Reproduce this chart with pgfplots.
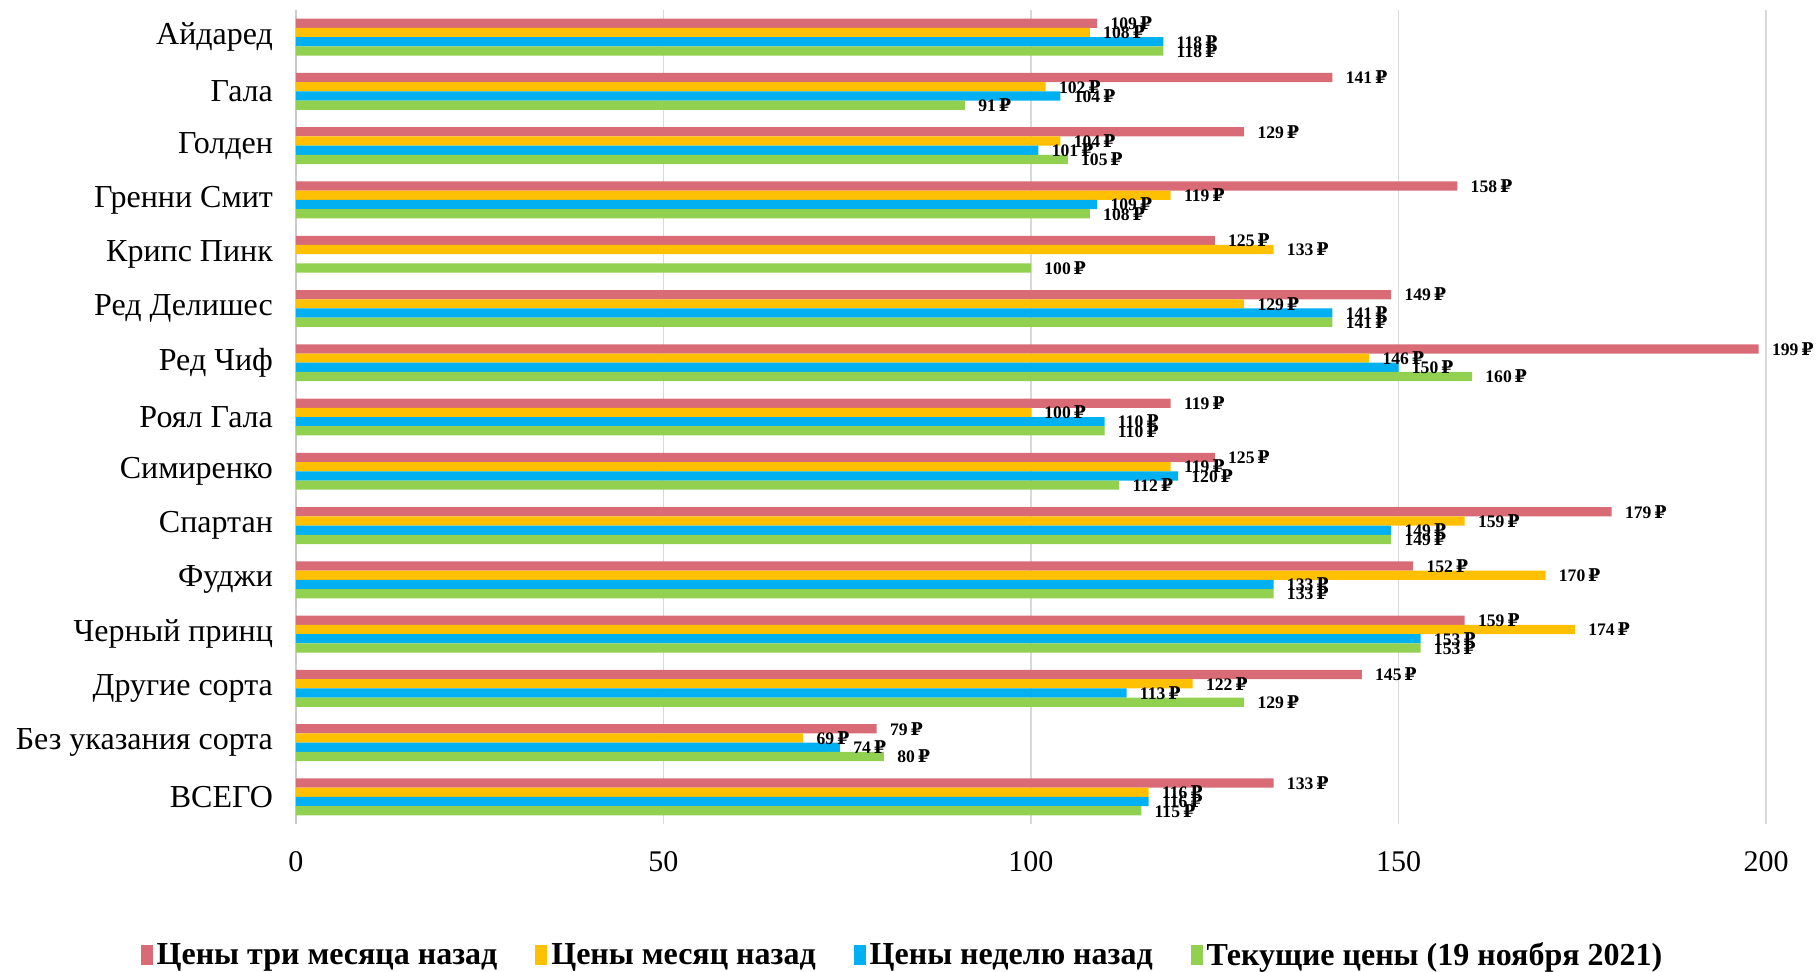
\documentclass[border=0pt]{standalone}
\usepackage{pgfplots}
\pgfplotsset{compat=1.18}
\usepackage{fontspec}
\setmainfont{Liberation Serif}
\newfontfamily\rubfont{DejaVu Serif}
\newcommand{\rub}{{\rubfont\bfseries ₽}}
\definecolor{cRed}{HTML}{D96B76}
\definecolor{cYel}{HTML}{FFC000}
\definecolor{cBlu}{HTML}{00B0F0}
\definecolor{cGrn}{HTML}{92D050}
\begin{document}
\begin{tikzpicture}
\begin{axis}[
  scale only axis,
  width=735pt, height=407pt,
  xbar, bar width=0.17,
  xmin=0, xmax=200,
  ymin=-0.5, ymax=14.5, y dir=reverse,
  ytick={0,...,14},
  yticklabels={Айдаред,Гала,Голден,Гренни Смит,Крипс Пинк,Ред Делишес,Ред Чиф,Роял Гала,Симиренко,Спартан,Фуджи,Черный принц,Другие сорта,Без указания сорта,ВСЕГО},
  xtick={0,50,100,150,200},
  major tick length=0pt,
  xmajorgrids, grid style={draw=black!15, line width=0.8pt},
  axis x line*=bottom, x axis line style={draw=none},
  axis y line*=left, y axis line style={draw=black!20, line width=0.8pt},
  xticklabel style={font=\fontsize{15}{18}\selectfont, yshift=-10pt},
  yticklabel style={font=\fontsize{16}{19}\selectfont, xshift=-8pt},
  /pgf/number format/assume math mode=true,
  point meta=x,
  nodes near coords={\pgfmathprintnumber{\pgfplotspointmeta}\,\rub},
  every node near coord/.append style={font=\fontsize{8.8}{10}\selectfont\bfseries, anchor=west, xshift=5.5pt, black, inner xsep=1pt},
  legend columns=4,
  legend style={draw=none, at={(-0.11,-0.161)}, anchor=west, font=\fontsize{16}{19}\selectfont\bfseries,
    /tikz/every even column/.append style={column sep=17pt}},
  legend image code/.code={\fill[#1] (0pt,-5pt) rectangle (6pt,5pt);},
]
\addplot[fill=cRed, draw=none, bar shift=-0.255] coordinates {
(109,0) (141,1) (129,2) (158,3) (125,4) (149,5) (199,6) (119,7) (125,8) (179,9) (152,10) (159,11) (145,12) (79,13) (133,14)};
\addplot[fill=cYel, draw=none, bar shift=-0.085] coordinates {
(108,0) (102,1) (104,2) (119,3) (133,4) (129,5) (146,6) (100,7) (119,8) (159,9) (170,10) (174,11) (122,12) (69,13) (116,14)};
\addplot[fill=cBlu, draw=none, bar shift=0.085] coordinates {
(118,0) (104,1) (101,2) (109,3) (141,5) (150,6) (110,7) (120,8) (149,9) (133,10) (153,11) (113,12) (74,13) (116,14)};
\addplot[fill=cGrn, draw=none, bar shift=0.255] coordinates {
(118,0) (91,1) (105,2) (108,3) (100,4) (141,5) (160,6) (110,7) (112,8) (149,9) (133,10) (153,11) (129,12) (80,13) (115,14)};
\legend{Цены три месяца назад, Цены месяц назад, Цены неделю назад, Текущие цены (19 ноября 2021)}
\end{axis}
\pgfresetboundingbox
\path[use as bounding box] (-148pt,-73.5pt) rectangle (760pt,412pt);
\end{tikzpicture}
\end{document}
